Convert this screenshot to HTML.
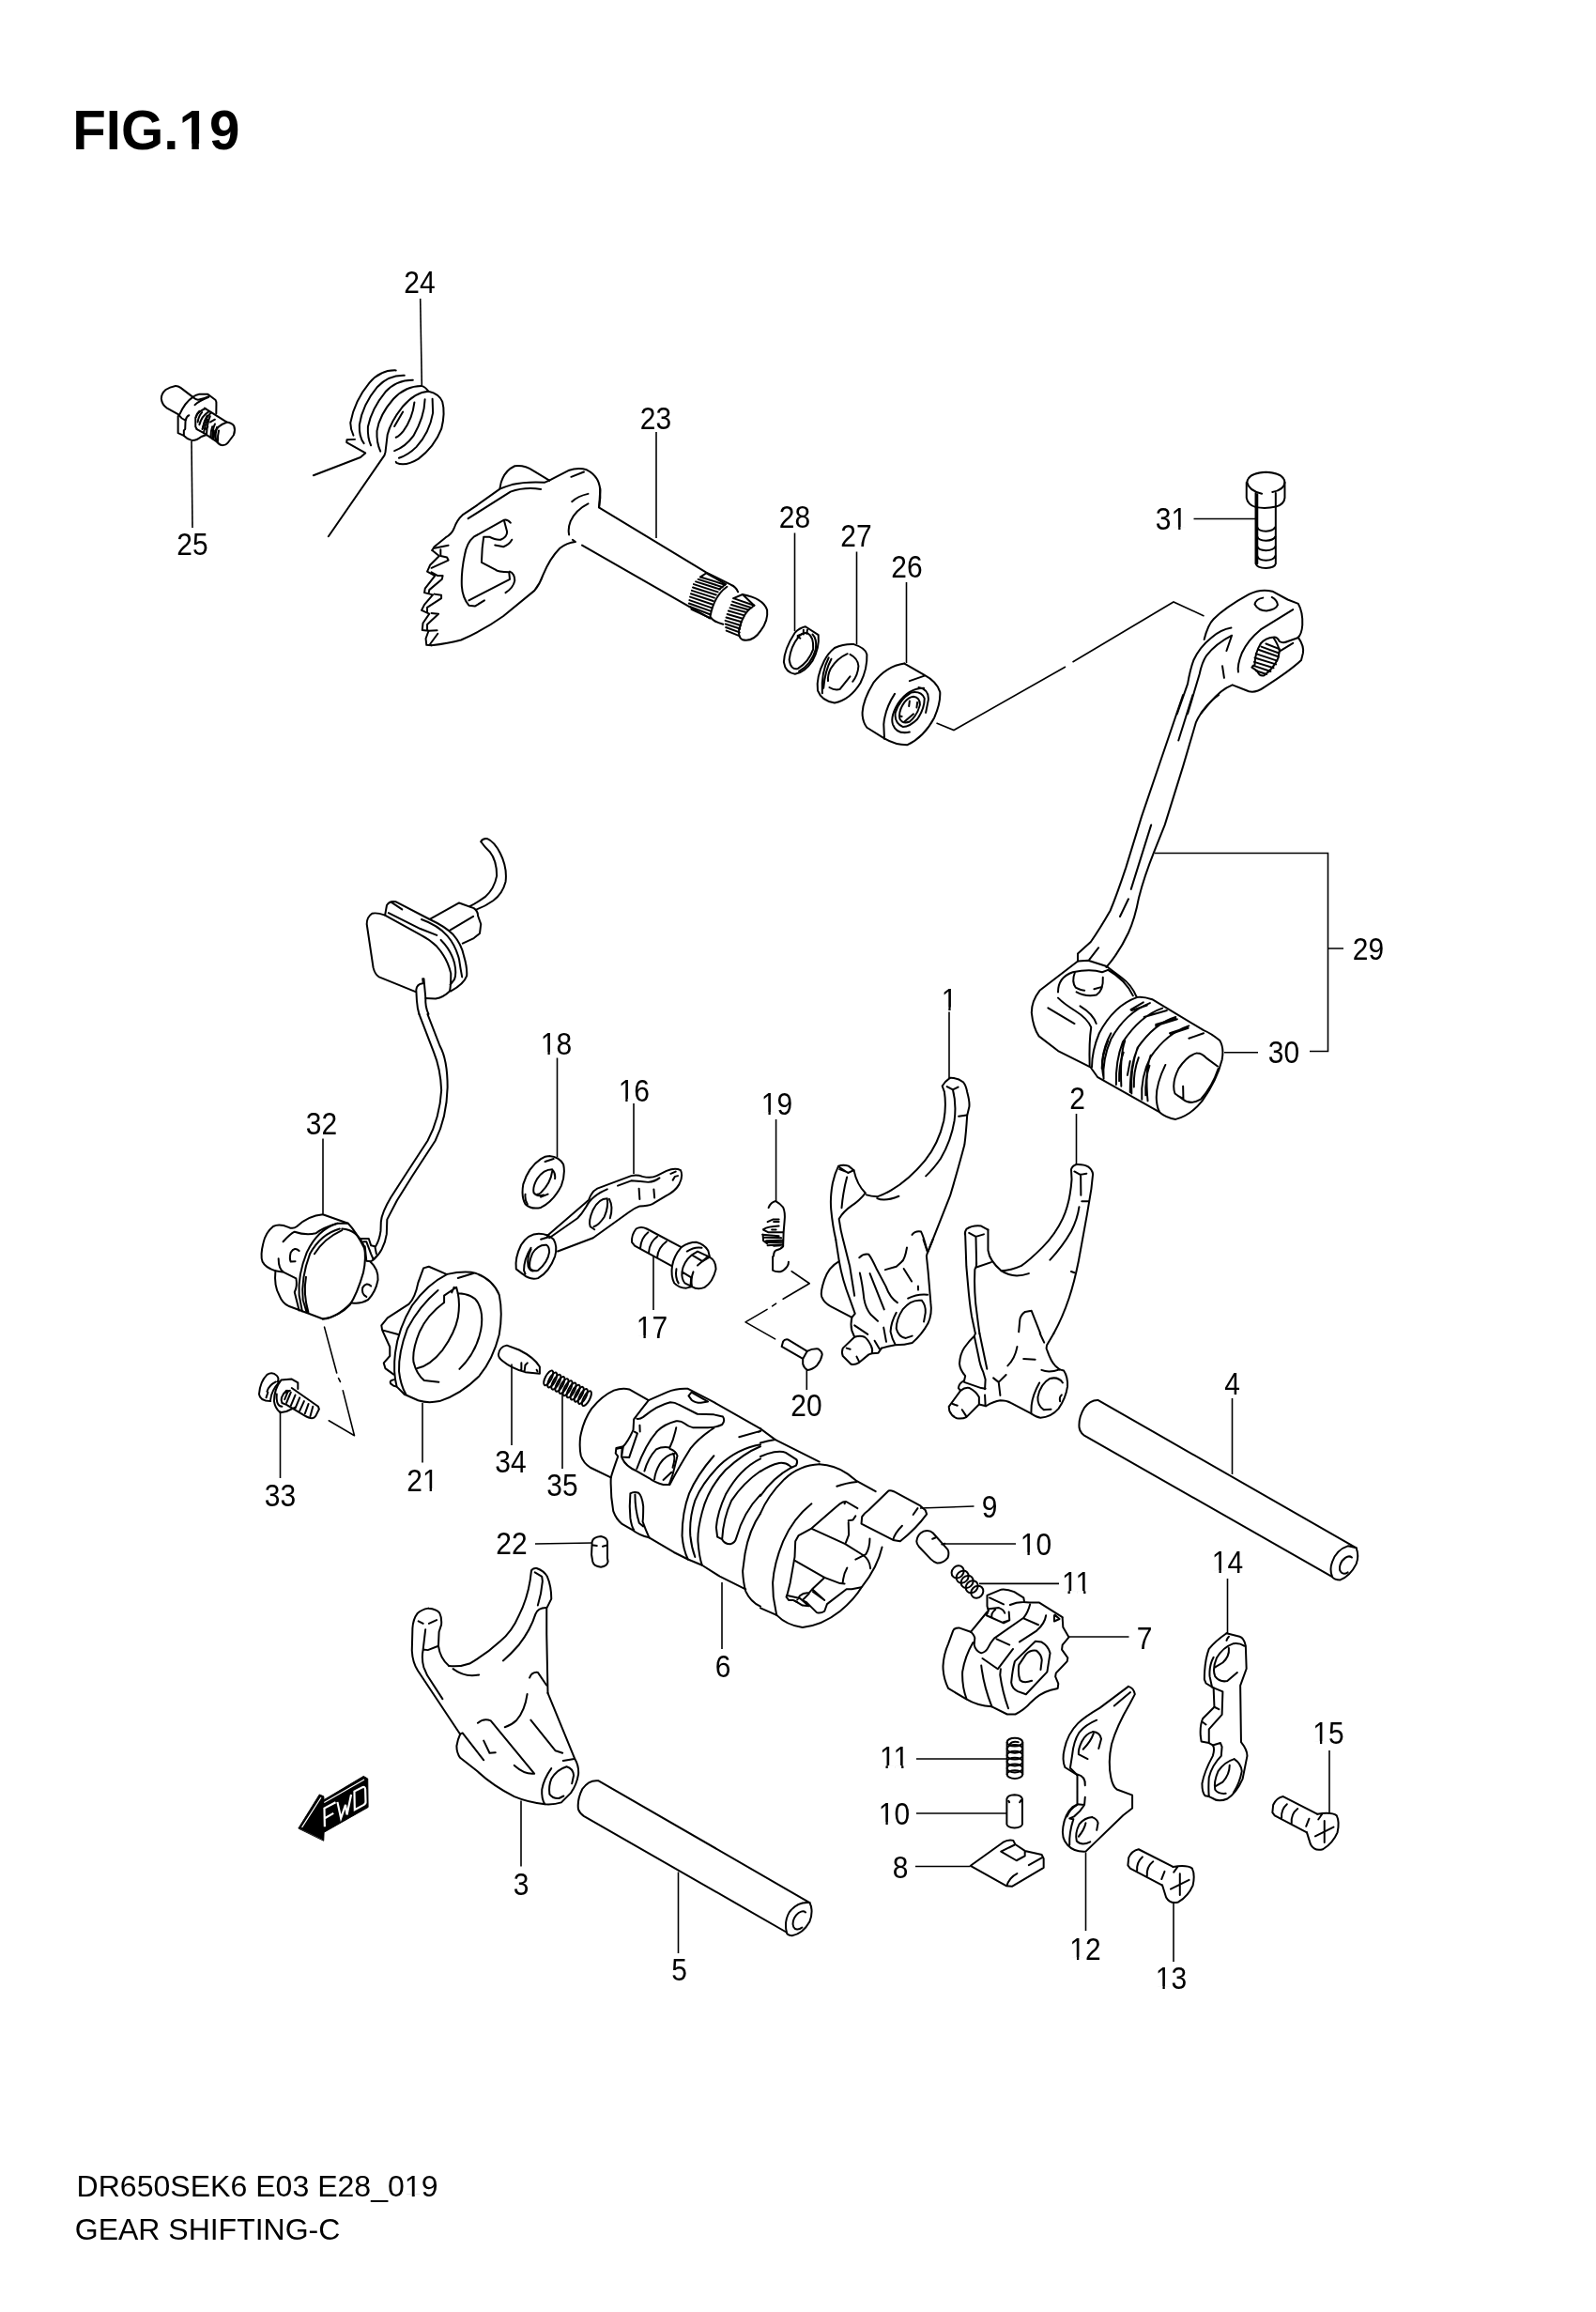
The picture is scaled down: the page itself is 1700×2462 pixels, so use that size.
<!DOCTYPE html>
<html><head><meta charset="utf-8">
<style>
html,body{margin:0;padding:0;background:#fff;}
body{width:1700px;height:2462px;overflow:hidden;}
svg{display:block;}
text{font-family:"Liberation Sans",sans-serif;fill:#000;}
svg{filter:grayscale(1);}
.n{font-size:30px;text-anchor:middle;}
#parts path,#parts ellipse,#parts circle,#parts line,#parts polyline,#parts polygon{vector-effect:non-scaling-stroke;}
#parts{fill:none;stroke:#000;stroke-width:2;stroke-linecap:round;stroke-linejoin:round;}
.f{fill:#fff;}
.k{fill:#000;}
.l{fill:none;stroke:#000;stroke-width:1.6;}
</style></head><body>
<svg width="1700" height="2462" viewBox="0 0 1700 2462">
<rect width="1700" height="2462" fill="#fff"/>
<text x="77.3" y="159.2" textLength="178" lengthAdjust="spacingAndGlyphs" style="font-size:60px;font-weight:bold;">FIG.19</text>
<text x="81.5" y="2339" textLength="385" lengthAdjust="spacingAndGlyphs" style="font-size:31.5px;">DR650SEK6 E03 E28_019</text>
<text x="79.8" y="2384.5" textLength="282.5" lengthAdjust="spacingAndGlyphs" style="font-size:31.5px;">GEAR SHIFTING-C</text>

<g class="n">
<text transform="translate(447,312) scale(1,1.12)">24</text>
<text transform="translate(205,591) scale(1,1.12)">25</text>
<text transform="translate(698.5,457) scale(1,1.12)">23</text>
<text transform="translate(846.5,562) scale(1,1.12)">28</text>
<text transform="translate(912,581.8) scale(1,1.12)">27</text>
<text transform="translate(966,615.3) scale(1,1.12)">26</text>
<text transform="translate(1247.5,564) scale(1,1.12)">31</text>
<text transform="translate(1457.5,1022) scale(1,1.12)">29</text>
<text transform="translate(1367.5,1132) scale(1,1.12)">30</text>
<text transform="translate(1011,1075.5) scale(1,1.12)">1</text>
<text transform="translate(1147.5,1181) scale(1,1.12)">2</text>
<text transform="translate(592.5,1123) scale(1,1.12)">18</text>
<text transform="translate(675.3,1173) scale(1,1.12)">16</text>
<text transform="translate(827.5,1187) scale(1,1.12)">19</text>
<text transform="translate(342.5,1207.8) scale(1,1.12)">32</text>
<text transform="translate(694.5,1425) scale(1,1.12)">17</text>
<text transform="translate(859,1508) scale(1,1.12)">20</text>
<text transform="translate(298.5,1604) scale(1,1.12)">33</text>
<text transform="translate(450,1588) scale(1,1.12)">21</text>
<text transform="translate(544,1568) scale(1,1.12)">34</text>
<text transform="translate(599,1593) scale(1,1.12)">35</text>
<text transform="translate(545,1655) scale(1,1.12)">22</text>
<text transform="translate(770,1786) scale(1,1.12)">6</text>
<text transform="translate(1312.5,1485) scale(1,1.12)">4</text>
<text transform="translate(1054,1616) scale(1,1.12)">9</text>
<text transform="translate(1103.5,1656) scale(1,1.12)">10</text>
<text transform="translate(1146.5,1697) scale(1,1.12)">11</text>
<text transform="translate(1219,1756) scale(1,1.12)">7</text>
<text transform="translate(1307.5,1675) scale(1,1.12)">14</text>
<text transform="translate(1415,1857) scale(1,1.12)">15</text>
<text transform="translate(952.5,1883) scale(1,1.12)">11</text>
<text transform="translate(952.5,1943) scale(1,1.12)">10</text>
<text transform="translate(959,2000) scale(1,1.12)">8</text>
<text transform="translate(1156,2087) scale(1,1.12)">12</text>
<text transform="translate(1247.5,2118) scale(1,1.12)">13</text>
<text transform="translate(555,2018) scale(1,1.12)">3</text>
<text transform="translate(723.5,2109) scale(1,1.12)">5</text>
</g>
<g fill="#fff"><rect x="1248.40" y="561.05" width="6.75" height="3.6"/><rect x="1257.45" y="561.05" width="7.65" height="3.6"/><rect x="1003.56" y="1072.55" width="6.75" height="3.6"/><rect x="1012.61" y="1072.55" width="7.65" height="3.6"/><rect x="576.72" y="1120.05" width="6.75" height="3.6"/><rect x="585.77" y="1120.05" width="7.65" height="3.6"/><rect x="659.52" y="1170.05" width="6.75" height="3.6"/><rect x="668.57" y="1170.05" width="7.65" height="3.6"/><rect x="811.72" y="1184.05" width="6.75" height="3.6"/><rect x="820.77" y="1184.05" width="7.65" height="3.6"/><rect x="678.72" y="1422.05" width="6.75" height="3.6"/><rect x="687.77" y="1422.05" width="7.65" height="3.6"/><rect x="450.90" y="1585.05" width="6.75" height="3.6"/><rect x="459.95" y="1585.05" width="7.65" height="3.6"/><rect x="1087.72" y="1653.05" width="6.75" height="3.6"/><rect x="1096.77" y="1653.05" width="7.65" height="3.6"/><rect x="1130.72" y="1694.05" width="6.75" height="3.6"/><rect x="1139.77" y="1694.05" width="7.65" height="3.6"/><rect x="1147.40" y="1694.05" width="6.75" height="3.6"/><rect x="1156.45" y="1694.05" width="7.65" height="3.6"/><rect x="1291.72" y="1672.05" width="6.75" height="3.6"/><rect x="1300.77" y="1672.05" width="7.65" height="3.6"/><rect x="1399.22" y="1854.05" width="6.75" height="3.6"/><rect x="1408.27" y="1854.05" width="7.65" height="3.6"/><rect x="936.72" y="1880.05" width="6.75" height="3.6"/><rect x="945.77" y="1880.05" width="7.65" height="3.6"/><rect x="953.40" y="1880.05" width="6.75" height="3.6"/><rect x="962.45" y="1880.05" width="7.65" height="3.6"/><rect x="936.72" y="1940.05" width="6.75" height="3.6"/><rect x="945.77" y="1940.05" width="7.65" height="3.6"/><rect x="1140.22" y="2084.05" width="6.75" height="3.6"/><rect x="1149.27" y="2084.05" width="7.65" height="3.6"/><rect x="1231.72" y="2115.05" width="6.75" height="3.6"/><rect x="1240.77" y="2115.05" width="7.65" height="3.6"/><rect x="432.44" y="2336.40" width="6.35" height="3.4"/><rect x="441.71" y="2336.40" width="6.09" height="3.4"/><rect x="192.86" y="152.7" width="11.47" height="7.5"/><rect x="211.78" y="152.7" width="11.06" height="7.5"/></g>
<g class="l"><path d="M447.7 318L449.3 410"/>
<path d="M204 470L205 562"/>
<path d="M699 460V573"/>
<path d="M846.5 567.5V672"/>
<path d="M912.5 587.5V686"/>
<path d="M965.5 620V706"/>
<path d="M1271.5 552.5H1339"/>
<path d="M1230 908.5H1414.5V1119.5H1395M1414.5 1010H1431"/>
<path d="M1304 1120.8H1340"/>
<path d="M1011 1077.5V1148.5"/>
<path d="M1146.5 1186V1241"/>
<path d="M593.5 1126.5V1232.5"/>
<path d="M675 1175V1250"/>
<path d="M826.6 1192V1279"/>
<path d="M344 1212.5V1292.5"/>
<path d="M696 1337.5V1395"/>
<path d="M859.3 1459V1480"/>
<path d="M298.5 1502.5V1574"/>
<path d="M450 1494V1557.5"/>
<path d="M545 1452.5V1539"/>
<path d="M599 1482.5V1564"/>
<path d="M570 1644L631 1643"/>
<path d="M769 1685V1756"/>
<path d="M1312.5 1489V1570"/>
<path d="M980 1606L1037.5 1604"/>
<path d="M1006.4 1644H1082"/>
<path d="M1043 1686.4H1128"/>
<path d="M1137.5 1743H1202.5"/>
<path d="M1307.5 1681V1740"/>
<path d="M1416 1864V1930"/>
<path d="M976 1873H1073"/>
<path d="M976 1931H1072.5"/>
<path d="M975 1987.5H1033.5"/>
<path d="M1156.5 1972.5V2056"/>
<path d="M1250 2026V2089"/>
<path d="M555 1917.5V1987.5"/>
<path d="M722.5 1993.5V2080"/>
<path d="M997.5 770L1016 777.5L1135 710M1142.5 705L1250 641L1282.5 656"/>
</g>
<g id="parts">
<!-- p01.svg -->
<g transform="translate(870,1130) scale(0.112782)">
<path d="M1258 158Q1210 190 1185 235L1205 290Q1225 420 1200 560Q1150 780 1020 940Q870 1120 700 1220Q620 1265 570 1280Q510 1275 470 1262"/>
<path d="M1258 158Q1330 155 1385 200Q1410 230 1420 290Q1445 380 1440 430L1420 515Q1410 680 1395 790Q1340 1000 1260 1270L1048 1805"/>
<path d="M1230 240L1285 270L1335 245M1285 270Q1320 400 1300 560Q1270 750 1170 920Q1100 1020 1030 1085M1340 520L1415 510"/>
<path d="M350 1030L300 990Q250 975 205 990Q170 1060 150 1150Q125 1280 135 1400Q150 1560 180 1685"/>
<path d="M205 995L295 1055L350 1030M215 1020L290 1050M350 1030Q380 1170 460 1245Q400 1320 330 1365Q250 1420 210 1490M285 1095Q250 1220 235 1385M210 1490Q225 1600 248 1685"/>
<path d="M570 1295Q640 1330 775 1275"/>
<path d="M900 1640Q930 1600 985 1610Q1010 1660 1040 1780"/>
</g>
<g transform="translate(860,1320) scale(0.112782)">
<path d="M268 0L300 205Q330 380 400 560L450 700L420 735M337 0L400 250L445 530"/>
<path d="M300 205Q200 260 160 380Q120 500 135 540Q160 600 220 630L420 735Q405 800 420 860L445 920"/>
<path d="M445 920Q500 900 540 920Q570 940 600 1000Q620 1040 610 1075L580 1085L490 1160Q440 1190 410 1175L335 1100Q320 1060 335 1025L445 920M370 1025L405 1035M465 1105L485 1145M610 1075L670 1070L700 1025M635 955L680 1030"/>
<path d="M700 1025Q760 1005 830 995Q920 995 990 975Q1080 900 1140 790Q1180 700 1165 600L1140 300L1125 155L1135 120M1095 0L1135 120L1185 0"/>
<path d="M840 690Q790 780 785 870Q800 940 830 990M1080 575Q980 560 900 660Q840 750 840 840Q860 920 930 930L990 910M1080 575Q1120 620 1115 690L1100 775M950 555Q1040 510 1135 520"/>
<path d="M490 170Q530 130 580 140Q610 180 650 270L740 440Q780 550 850 595M940 75Q920 190 890 210L840 255L735 285M495 315Q520 420 535 560Q550 650 600 710L665 770M590 320L725 660M910 275L985 395M1045 440L1047 475M445 810L570 895M720 830L745 965"/>
</g>
<!-- p02.svg -->
<g transform="translate(1000,1230) scale(0.112782)">
<path d="M1300 88Q1260 100 1250 135L1255 230Q1240 450 1170 600Q1100 750 980 870Q860 990 780 1045Q680 1090 590 1092"/>
<path d="M1300 88Q1370 85 1410 110Q1450 140 1455 180L1440 320Q1420 440 1400 560L1320 1000Q1280 1200 1230 1350Q1170 1530 1085 1685"/>
<path d="M1280 155L1335 185L1395 175M1340 185L1342 380M1350 437H1415M1325 490Q1310 600 1250 720Q1170 860 1050 990M1250 1100L1280 1110"/>
<path d="M465 705L400 670Q320 660 260 700Q240 730 250 760L260 1050L275 1220Q290 1400 310 1520L345 1685"/>
<path d="M285 735L350 770L425 748M350 770L355 1000Q360 1050 340 1080M465 705V900Q480 1000 590 1092M355 1060L495 1012M340 1080Q330 1300 360 1500Q375 1620 385 1685M590 1092Q700 1170 850 1118"/>
<path d="M875 1470L815 1480Q770 1510 765 1560L755 1670M875 1470L960 1685"/>
</g>
<g transform="translate(1000,1420) scale(0.112782)">
<path d="M335 25Q290 65 240 135Q200 195 195 285Q200 345 250 400L240 445M335 25L375 215Q390 305 420 365L440 435L435 525M385 0L455 335M345 0L335 25"/>
<path d="M240 445Q190 470 185 515L205 540M240 460L400 515L440 520"/>
<path d="M205 540Q250 505 290 515Q350 545 380 600V670L260 790Q220 810 170 800Q120 780 100 730L95 690L205 540M130 665L175 680M220 720L255 775M380 670L445 685M435 580L440 680"/>
<path d="M445 685Q520 640 580 632Q640 632 680 655L870 755Q920 790 960 795Q1060 790 1130 710Q1200 610 1215 500Q1220 410 1180 350L1140 340"/>
<path d="M515 420L565 460L635 390M565 460L580 585M740 125Q720 235 650 305M800 240L910 245M970 345Q1040 375 1140 340"/>
<path d="M1085 0L1020 110Q1010 140 1025 165Q1060 265 1100 305L1140 340M955 0L995 85"/>
<path d="M1170 465Q1130 405 1050 425Q960 475 935 600Q930 680 990 720L1060 715M950 465Q885 580 875 680L872 755M1160 580Q1135 600 1145 640"/>
</g>
<!-- p03.svg -->
<g transform="translate(430,1660) scale(0.125313)">
<path d="M1085 100Q1100 75 1130 80Q1190 100 1220 150Q1255 230 1255 340L1215 420V640L1225 1140"/>
<path d="M1085 100L1075 180Q1050 340 980 480Q920 620 820 700Q700 810 560 890Q480 920 385 910"/>
<path d="M1115 115L1175 150L1180 190Q1170 300 1140 395M1210 415Q1140 415 1120 470Q1080 600 980 730Q910 810 845 865"/>
<path d="M210 420Q150 430 115 465Q80 510 75 590L70 780Q75 880 120 950L480 1490M210 420Q280 425 305 460Q325 500 320 560L300 620L295 740Q310 850 385 910"/>
<path d="M125 530L165 550M215 550L280 520M185 600L165 770L205 775L295 740M165 770Q150 850 170 920L200 990L330 1190"/>
<path d="M420 935Q520 1010 640 985"/>
<path d="M1225 1140L1455 1700Q1490 1760 1485 1830Q1470 1920 1420 1990L1340 2070Q1280 2090 1200 2085Q1060 2070 940 2020Q760 1930 620 1800L480 1690Q450 1650 450 1590Q460 1530 480 1490"/>
<path d="M480 1490L500 1480L680 1710"/>
<path d="M1255 1780Q1190 1870 1175 1960Q1170 2040 1200 2085M1385 1765Q1300 1790 1255 1870Q1230 1930 1240 2000Q1270 2040 1320 2035L1360 2015M1385 1765Q1440 1780 1445 1840L1430 1910M1355 1715L1450 1700"/>
<path d="M1070 1010Q1090 960 1140 965L1215 1075M1050 1150Q1030 1290 960 1370Q920 1410 860 1430M630 1395Q680 1350 740 1375L1110 1825Q1030 1835 940 1755M1080 1370L1290 1630L1350 1650M680 1545L730 1650L780 1645"/>
</g>
<!-- p04_05.svg -->
<g transform="translate(1140,1480) scale(0.213033)">
<path d="M1430 790L140 52Q100 50 70 90Q40 140 45 190Q50 215 70 228L1310 935"/>
<path d="M1430 790Q1445 830 1430 870Q1400 930 1350 950Q1320 950 1310 935Q1295 900 1310 860Q1330 800 1390 780L1430 790"/>
<path d="M1408 838A30 46 30 1 0 1388 912"/>
</g>
<g transform="translate(420,1660) scale(0.28822)">
<path d="M1535 1270L755 820Q720 815 695 850Q675 890 680 925Q685 940 700 950L1450 1380"/>
<path d="M1535 1270Q1550 1300 1535 1340Q1510 1385 1470 1392Q1450 1390 1450 1380Q1440 1340 1460 1305Q1490 1265 1535 1270"/>
<path d="M1520 1306A23 36 30 1 0 1507 1362"/>
</g>
<!-- p06a.svg -->
<g transform="translate(610,1460) scale(0.125313)">
<path d="M645 248L480 155Q420 140 350 165Q250 210 160 320Q90 420 65 560Q55 650 70 720Q90 780 150 820L325 905"/>
<path d="M645 248L800 180Q880 145 980 150L1200 265L1596 490"/>
<path d="M645 248Q580 330 520 410L515 500Q470 600 430 640L370 655L365 700L385 725Q340 850 325 905Q320 1050 345 1190Q370 1260 420 1300L500 1345Q570 1400 650 1415"/>
<path d="M525 515L550 530L480 735L415 730L430 640M375 660L420 650L415 725M570 460L572 515"/>
<path d="M650 1415L860 1540L980 1600L1100 1650L1250 1745L1470 1855"/>
<path d="M545 405Q570 410 600 390Q720 290 830 265Q870 265 900 285L1060 365L1200 370L1265 385M1275 385Q1300 420 1270 455Q1220 480 1150 480H1020Q980 470 950 445Q920 420 880 425Q780 450 720 510Q620 620 545 830M1200 485Q1080 560 1000 660Q900 820 825 965"/>
<path d="M985 210L1010 180L1150 260L1090 270Q1040 270 1010 245L985 210"/>
<path d="M880 480Q860 580 825 650Q760 640 710 665Q640 740 610 850M825 660Q880 680 890 720L850 880L820 965H770Q700 950 650 910L545 850Q450 810 420 740"/>
<path d="M870 700Q790 710 740 790Q700 860 695 920M850 700Q880 720 850 820M770 925L840 860"/>
<path d="M490 1040Q520 1020 560 1035Q590 1060 600 1150Q600 1250 595 1280Q620 1350 650 1415M490 1040Q480 1150 490 1250Q500 1320 520 1350M530 1050Q530 1180 565 1290L600 1320"/>
<path d="M1200 720Q1060 880 990 1040Q930 1200 930 1400Q940 1520 980 1600M1596 625Q1400 660 1250 800Q1100 950 1040 1100Q990 1250 1000 1400Q1010 1500 1040 1580M1596 640Q1450 700 1300 840Q1150 1000 1100 1200Q1060 1350 1065 1450Q1075 1580 1100 1650"/>
<path d="M1596 745Q1420 830 1300 1050Q1230 1200 1220 1330L1230 1410L1270 1430M1596 850Q1450 950 1350 1100Q1280 1250 1270 1430Q1290 1470 1340 1470Q1380 1460 1390 1420Q1450 1200 1596 1050"/>
<path d="M1596 1210Q1500 1350 1465 1550L1445 1700Q1450 1800 1470 1870Q1510 1960 1596 2000M1415 560L1596 510"/>
<path d="M165 1450Q175 1410 240 1405Q290 1415 295 1450V1590L300 1620Q290 1660 240 1665Q180 1660 170 1620L160 1560L165 1450M175 1480L205 1485M255 1490L290 1480"/>
</g>
<!-- p06b.svg -->
<g transform="translate(790,1520) scale(0.137845)">
<path d="M145 10L260 95L600 265"/>
<path d="M145 30L130 35M145 120Q200 105 260 95"/>
<path d="M145 225Q200 200 250 190Q310 180 340 195L425 250Q435 270 420 295L385 310M145 340Q220 290 290 275Q340 270 370 295L385 310"/>
<path d="M385 310Q240 390 145 530"/>
<path d="M600 285Q450 290 330 400Q200 530 145 665"/>
<path d="M145 1395L270 1450"/>
<path d="M600 285Q720 290 820 360L890 415L1035 495M735 455Q800 430 890 420"/>
<path d="M270 1450Q350 1530 470 1545Q620 1530 760 1420Q870 1330 930 1230Q1050 1080 1085 925"/>
<path d="M540 590Q400 700 320 880Q250 1050 240 1200L245 1310L270 1450"/>
<path d="M540 780L700 640L760 590Q790 570 810 575L895 625M540 780L440 835L415 880L410 1000L375 1200L355 1280L345 1310L365 1335H400L430 1350M800 575L795 590"/>
<path d="M545 785L800 900L935 985M405 1025L640 1160L760 1205L795 1208M825 735L828 830L805 890M825 720L860 715L880 685M990 860Q990 930 960 980L880 1020M935 985Q990 1020 995 1090M815 1085Q790 1130 785 1170L780 1205"/>
<path d="M640 1160L545 1250L640 1335M550 1270L640 1335M545 1250L520 1280Q480 1275 450 1300L430 1330M520 1285L470 1335L500 1350L580 1430Q610 1440 640 1420L660 1365L810 1250H850L925 1235M360 1300L450 1320L520 1380L470 1375L410 1340"/>
<path d="M1135 490Q1150 485 1175 495L1380 605L1420 640L1430 670Q1350 780 1225 880L1170 870L925 745L930 690Q950 660 980 640L1135 490M1360 625L1325 675M1240 760Q1180 820 1170 870"/>
</g>
<!-- p07_10_11.svg -->
<g transform="translate(960,1620) scale(0.125313)">
<path d="M130 170Q135 110 190 85Q240 70 270 100L395 240Q410 270 395 310Q360 355 305 355Q280 350 250 320L150 215Q130 190 130 170M265 150L290 140M345 195L370 190"/>
<ellipse cx="480" cy="430" rx="48" ry="56" transform="rotate(45 480 430)"/>
<ellipse cx="520" cy="472" rx="48" ry="56" transform="rotate(45 520 472)"/>
<ellipse cx="560" cy="514" rx="48" ry="56" transform="rotate(45 560 514)"/>
<ellipse cx="600" cy="556" rx="48" ry="56" transform="rotate(45 600 556)"/>
<ellipse cx="645" cy="600" rx="48" ry="56" transform="rotate(45 645 600)"/>
<path d="M730 630L850 580Q900 575 960 600L1040 650L1045 680M730 630V720L740 760M750 650L870 705M925 710Q1000 675 1090 690H1170L1370 815"/>
<path d="M745 745L830 735Q870 750 880 780M800 750Q760 780 770 820L870 865L920 840L915 770M740 760L725 800L770 820M860 860L905 845"/>
<path d="M1095 705Q1075 780 1040 820L790 995Q760 1030 740 1070Q720 1110 680 1120Q630 1100 620 1050L625 990Q610 950 590 940L730 770"/>
<path d="M1040 825L1165 880M1230 800Q1220 870 1150 930L1005 1025M810 1000L920 1050"/>
<path d="M590 940L490 905Q450 905 440 930L400 1040Q360 1130 355 1230Q355 1330 400 1420L550 1510Q650 1570 770 1575L900 1640H970Q1050 1600 1100 1540Q1180 1460 1270 1435L1330 1420L1335 1380L1310 1320L1315 1290L1410 1190L1415 1160L1365 1090L1370 1050L1425 985L1375 900L1370 820"/>
<path d="M1300 800V850L1345 830L1305 795"/>
<path d="M610 1030Q540 1150 520 1280Q515 1400 555 1510M680 1225Q700 1400 770 1575M840 1305Q860 1450 910 1590M690 1165L820 1255L950 1085M840 1305L845 1255"/>
<path d="M1140 1020L1190 1025Q1250 1060 1265 1120L1240 1280L1060 1470L990 1445Q940 1420 935 1370Q945 1260 965 1190L1140 1020"/>
<path d="M1150 1100Q1190 1130 1195 1180L1185 1260M1150 1100Q1100 1090 1060 1130L1000 1220Q990 1300 1010 1350Q1040 1380 1110 1355"/>
</g>
<!-- p08_12.svg -->
<g transform="translate(1020,1780) scale(0.137845)">
<path d="M382 545V795M503 545V795"/>
<ellipse cx="442" cy="545" rx="60" ry="32"/>
<ellipse cx="442" cy="597" rx="60" ry="32"/>
<ellipse cx="442" cy="647" rx="60" ry="32"/>
<ellipse cx="442" cy="697" rx="60" ry="32"/>
<ellipse cx="442" cy="747" rx="60" ry="32"/>
<ellipse cx="442" cy="795" rx="60" ry="32"/>
<path d="M405 560Q420 535 470 545"/>
<path d="M380 985Q385 955 440 952Q495 955 500 985V1180Q495 1205 440 1208Q385 1205 380 1180ZM395 1000L400 1010M480 1010L490 995"/>
<path d="M100 1500L350 1320Q390 1295 430 1305L445 1335L520 1385L650 1415L665 1445V1515L420 1660L375 1655L100 1500M445 1335L335 1390L455 1460L520 1425V1385M400 1360L440 1340M550 1495L650 1440M460 1560Q400 1590 380 1655"/>
<path d="M1320 115Q1360 125 1370 175L1330 250Q1230 420 1190 560Q1160 700 1185 820Q1200 890 1230 910L1350 955V1055L1280 1110L990 1390Q900 1395 850 1340Q800 1290 815 1200Q830 1100 890 1045L925 1025V800L830 740Q805 680 825 600Q850 480 930 400Q980 350 1100 280L1320 115"/>
<path d="M1075 375Q990 410 940 470Q895 540 885 650L870 745L925 800M925 795Q990 810 985 880M985 970L980 1030L925 1025M980 1030Q950 1080 900 1120L865 1135L895 1140M895 1140Q860 1250 865 1340M925 1030Q870 1060 845 1120M1335 160L1210 265"/>
<path d="M1045 465Q990 480 960 540Q930 600 935 640L1005 675M1045 465Q1100 470 1110 520L1090 595M1050 480Q1030 540 970 600"/>
<path d="M1040 1125Q980 1130 940 1180Q905 1250 920 1310Q960 1350 1025 1315M1040 1125Q1080 1140 1085 1170L1075 1225M990 1170Q980 1220 935 1275"/>
</g>
<!-- p14_15_13.svg -->
<g transform="translate(1190,1720) scale(0.162907)">
<path d="M715 118Q640 170 600 220Q570 300 570 420L580 445L630 475L635 600L560 675Q540 720 545 790L550 825L600 835L625 850Q640 870 625 920Q570 1020 555 1100Q555 1160 575 1180L600 1185"/>
<path d="M715 118L800 140Q830 150 840 200L845 350L805 460L810 830Q850 880 850 920L820 1070Q780 1160 720 1200Q660 1225 620 1195L600 1185"/>
<path d="M730 140Q720 150 715 165M830 200Q800 180 760 185Q690 210 650 280Q620 350 640 400Q670 440 720 430L785 375M630 275Q600 330 605 400L620 470L690 500L685 650L600 745V830M635 600L665 615M560 700L580 715M625 850L675 835L685 860L680 920Q620 980 600 1060Q595 1130 600 1185"/>
<path d="M730 215Q735 270 690 310L640 340"/>
<path d="M765 940Q700 960 660 1020Q630 1090 640 1140Q660 1170 710 1165M765 940Q810 970 815 1020Q800 1100 760 1160M735 980Q735 1040 690 1090L640 1120"/>
<g id="scr15">
<path d="M1085 1185Q1040 1195 1020 1240L1015 1290L1030 1310L1240 1420M1085 1185L1310 1300M1110 1235Q1070 1270 1075 1325M1180 1265Q1135 1300 1140 1360M1255 1330L1235 1380"/>
<path d="M1310 1300Q1400 1285 1435 1310Q1455 1350 1440 1420Q1410 1490 1345 1530Q1290 1545 1265 1500L1240 1420M1340 1300L1315 1335M1355 1345V1485M1295 1445L1415 1385"/>
</g>
<g transform="translate(-945,345)">
<path d="M1085 1185Q1040 1195 1020 1240L1015 1290L1030 1310L1240 1420M1085 1185L1310 1300M1110 1235Q1070 1270 1075 1325M1180 1265Q1135 1300 1140 1360M1255 1330L1235 1380"/>
<path d="M1310 1300Q1400 1285 1435 1310Q1455 1350 1440 1420Q1410 1490 1345 1530Q1290 1545 1265 1500L1240 1420M1340 1300L1315 1335M1355 1345V1485M1295 1445L1415 1385"/>
</g>
</g>
<!-- p16_18_17.svg -->
<g transform="translate(540,1210) scale(0.150376)">
<path d="M300 140Q370 145 400 200Q415 270 385 350Q330 460 240 505Q170 520 130 480Q100 430 115 340Q150 220 240 160Q270 140 300 140"/>
<path d="M130 410Q125 450 145 480M270 180L330 160"/>
<path d="M320 235Q260 235 215 300Q180 360 190 400Q210 430 260 415M320 235Q345 260 340 300M320 250Q310 330 240 400Q230 410 215 410M240 430L290 410"/>
<path d="M285 705L580 450Q600 390 640 370L880 280Q920 270 960 285Q1020 300 1060 280L1130 245Q1190 220 1230 240Q1250 280 1220 340Q1190 390 1130 420L1030 480Q1000 495 940 495Q900 510 860 540L610 720L360 815"/>
<path d="M300 720L500 580Q530 550 560 500Q600 420 710 375M785 350L880 315Q950 320 1000 325Q1050 320 1080 295"/>
<path d="M935 370L940 445M1040 375L1045 435M1160 265L1195 250M1175 310L1190 285L1210 280"/>
<path d="M710 440Q650 440 610 520Q575 600 590 640L620 660M710 440Q720 500 690 570Q650 630 615 640M725 445Q755 500 730 580"/>
<path d="M225 690Q150 690 100 770Q55 860 65 940L110 975Q160 1020 220 1005Q300 960 340 850Q360 780 330 730Q290 690 225 690M240 730L290 715M170 790Q120 870 120 950L130 975"/>
<path d="M280 770Q220 765 180 830Q150 900 165 940Q190 960 220 950Q290 890 300 820Q300 780 280 770M170 800Q140 860 150 920Q160 950 185 955"/>
<path d="M990 655Q950 635 915 655Q880 700 885 750L905 775L1170 920M990 655L1235 785"/>
<path d="M1000 680Q950 720 945 790M1065 710Q1010 750 1005 820M1130 745Q1070 790 1065 855"/>
<path d="M1235 785Q1290 750 1340 750Q1400 765 1425 810L1435 850M1235 785Q1180 850 1170 920Q1160 990 1185 1040Q1220 1075 1270 1075L1310 1065M1275 815Q1330 780 1380 790M1200 940Q1190 1000 1215 1040"/>
<path d="M1310 840L1350 815L1425 850L1385 885L1310 840Q1250 890 1240 960L1305 1000M1240 960Q1235 1010 1260 1040L1300 1060M1305 1000L1300 1060M1385 885L1350 915"/>
<path d="M1435 855Q1480 880 1480 940Q1460 1030 1400 1070Q1350 1090 1310 1065Q1300 1010 1320 960M1385 885L1435 855"/>
</g>
<!-- p19_20.svg -->
<g transform="translate(780,1260) scale(0.100251)">
<path d="M385 260Q410 200 462 190Q500 210 540 255Q565 310 555 400L545 520L540 670"/>
<path d="M375 410L430 385H495M440 410H495M330 490Q380 460 495 455M330 495L380 520H540M420 495H465M320 545L495 560M325 545L330 610L370 640M345 575L520 580M360 610L540 605M365 630L535 625M375 660L440 655L535 650M440 665L520 660"/>
<path d="M540 670Q520 700 470 710Q440 720 440 770L430 780V925Q460 945 510 940Q550 930 580 890Q600 860 598 835"/>
<path d="M630 935L820 1065L540 1230M425 1305L465 1278M370 1340L140 1475L455 1655" style="stroke-width:1.6"/>
<path d="M795 1785L590 1660Q555 1655 540 1680L525 1735L750 1865"/>
<path d="M795 1785Q850 1755 915 1760Q955 1790 955 1820Q945 1880 900 1935Q850 1980 800 1985Q760 1960 750 1920V1865Q770 1830 795 1785"/>
</g>
<!-- p21_34_35.svg -->
<g transform="translate(390,1330) scale(0.162907)">
<path d="M530 165Q650 140 720 160Q830 200 870 300Q895 420 870 560Q830 720 740 830Q620 950 480 995Q400 1010 340 990L250 950"/>
<path d="M530 165Q400 230 300 370Q210 520 190 680Q175 800 200 900L250 950"/>
<path d="M470 270Q350 370 270 520Q210 680 215 800Q225 890 260 950"/>
<path d="M600 290Q700 295 730 350Q770 420 750 530Q720 680 610 785M510 350Q400 430 350 540Q300 660 310 740Q330 820 380 860L475 870M335 780Q420 760 500 660Q580 550 600 450Q615 360 600 290"/>
<path d="M600 290L590 250L510 305V350M575 250L560 285M600 190L700 160"/>
<path d="M525 165L410 115L375 125L340 220Q320 320 280 360L140 450L100 500L105 530L215 560M105 530L155 640V700L115 745L125 780L180 820M180 855Q150 860 160 880L180 895L200 900"/>
<path d="M865 690Q870 640 920 630L1000 660Q1100 710 1135 770V815L1040 805Q950 780 890 730Q865 710 865 690M1015 745V795M1035 800L1040 760L1055 745M1115 790L1120 800"/>
<ellipse cx="1192.0" cy="843.0" rx="20" ry="54" transform="rotate(28 1192.0 843.0)"/>
<ellipse cx="1217.0" cy="856.4" rx="20" ry="54" transform="rotate(28 1217.0 856.4)"/>
<ellipse cx="1242.0" cy="869.8" rx="20" ry="54" transform="rotate(28 1242.0 869.8)"/>
<ellipse cx="1267.0" cy="883.2" rx="20" ry="54" transform="rotate(28 1267.0 883.2)"/>
<ellipse cx="1292.0" cy="896.6" rx="20" ry="54" transform="rotate(28 1292.0 896.6)"/>
<ellipse cx="1317.0" cy="910.0" rx="20" ry="54" transform="rotate(28 1317.0 910.0)"/>
<ellipse cx="1342.0" cy="923.4" rx="20" ry="54" transform="rotate(28 1342.0 923.4)"/>
<ellipse cx="1367.0" cy="936.8" rx="20" ry="54" transform="rotate(28 1367.0 936.8)"/>
<ellipse cx="1392.0" cy="950.2" rx="20" ry="54" transform="rotate(28 1392.0 950.2)"/>
<ellipse cx="1417.0" cy="963.6" rx="20" ry="54" transform="rotate(28 1417.0 963.6)"/>
<ellipse cx="1442.0" cy="977.0" rx="20" ry="54" transform="rotate(28 1442.0 977.0)"/>
</g>
<!-- p23a.svg -->
<g transform="translate(440,480) scale(0.150376)">
<path d="M615 265Q630 150 720 108Q790 100 850 140L965 210"/>
<path d="M965 210L1100 140Q1170 115 1230 135Q1320 180 1325 280L1318 400"/>
<path d="M965 210L930 225Q800 218 700 240Q650 255 615 270L440 395L350 455Q310 490 290 550Q275 590 230 615L150 680L135 705"/>
<path d="M905 272Q790 255 690 290L390 480"/>
<path d="M135 705L185 745L120 810L100 855L155 885L85 975L80 1005L140 1020L80 1090L60 1130L115 1155L70 1220L65 1270L110 1275L90 1330L95 1375L130 1378"/>
<path d="M150 690L250 670M195 700V745L240 755L250 775L130 830M130 860L175 885H210L205 910L115 985L110 1010M150 1015L200 1022V1045L100 1110V1140M130 1150L180 1155L100 1230V1270M110 1275L170 1272M175 1295L120 1370"/>
<path d="M130 1378Q250 1365 340 1340Q500 1270 640 1170L860 990Q900 940 920 880Q970 760 1040 690Q1090 650 1150 645L1130 630"/>
<path d="M1120 185L1210 150M1125 360Q1170 320 1240 305M1240 375Q1150 420 1115 500Q1095 550 1105 595"/>
<path d="M690 510Q670 485 645 490L430 610Q380 650 365 740Q340 860 345 960Q350 1040 395 1095L440 1100L505 1060"/>
<path d="M395 1060L685 910L680 860Q600 860 580 840L485 790L490 690L500 610L540 610Q590 635 620 630Q670 610 665 570L645 495"/>
<path d="M685 855Q720 870 720 920Q710 970 655 1005M580 668Q620 675 640 680Q680 665 700 630"/>
</g>
<!-- p23b.svg -->
<g transform="translate(620,520) scale(0.137845)">
<path d="M140 0V75L130 148L960 650L1150 745Q1190 760 1205 800"/>
<path d="M0 440L830 915L990 1005"/>
<path d="M915 685L960 655L1110 740L1060 780"/>
<path d="M915 685 L1105 745M897 703 L1085 763M879 721 L1066 780M863 741 L1049 801M856 765 L1036 823M848 790 L1022 846M841 814 L1013 871M835 839 L1005 896M830 864 L998 922M826 889 L992 948M832 913 L988 974M845 935 L985 1000"/>
<path d="M1120 760Q1020 830 990 990Q1010 1030 1090 1050"/>
<path d="M1170 850L1240 820L1330 905"/>
<path d="M1170 850 L1330 905M1162 875 L1309 923M1153 900 L1288 940M1143 924 L1267 958M1131 947 L1254 982M1122 972 L1242 1007M1114 997 L1232 1032M1107 1022 L1225 1059M1108 1048 L1220 1085M1111 1074 L1217 1113M1115 1100 L1215 1140"/>
<path d="M1240 820Q1400 850 1430 940Q1440 1020 1380 1100Q1320 1190 1240 1170Q1200 1150 1215 1080"/>
<path d="M1330 905Q1240 960 1215 1090"/>
</g>
<!-- p24.svg -->
<g transform="translate(320,380) scale(0.106516)">
<path d="M955 135Q800 130 690 260Q540 440 500 660Q500 720 530 785"/>
<path d="M1040 185Q880 180 770 300Q620 480 590 680Q585 800 635 865"/>
<path d="M1125 232Q960 230 850 350Q710 520 675 700Q670 810 705 885"/>
<path d="M1210 290Q1050 290 930 420Q790 580 765 740Q760 860 800 945"/>
<path d="M1210 290Q1250 300 1280 345"/>
<path d="M1280 345Q1150 350 1020 500Q900 650 870 780L850 950L840 985L280 1795"/>
<path d="M1280 345Q1390 370 1420 450Q1450 560 1410 720Q1340 900 1180 1020Q1050 1100 960 1060L955 1050"/>
<path d="M1320 420L1325 560Q1290 760 1160 900Q1080 980 985 1012"/>
<path d="M1245 425Q1240 600 1130 790Q1050 900 940 940"/>
<path d="M1140 455Q1120 620 1030 740Q990 790 955 805"/>
<path d="M1025 550L940 695"/>
<path d="M545 825L465 828L462 855L650 962L600 1005L130 1185"/>
</g>
<!-- p25.svg -->
<g transform="translate(160,395) scale(0.068922)">
<path d="M660 405L470 260Q430 230 390 232Q300 250 240 290Q170 350 172 430Q180 520 260 575L450 680"/>
<path d="M660 405Q540 480 450 680L430 700V960L520 1000Q580 1060 640 1072Q720 1075 790 1015L860 990"/>
<path d="M450 690Q480 740 545 762L540 900L520 920V1000"/>
<path d="M600 685Q560 700 548 762"/>
<path d="M660 405Q700 365 760 358H890L1010 450Q1025 470 1022 520L1020 660"/>
<path d="M660 405Q700 440 740 445Q830 430 905 392"/>
<path d="M690 525Q740 470 905 402"/>
<path d="M840 575L1180 790"/>
<path d="M1180 790Q1260 800 1295 850Q1320 920 1290 990L1200 1110Q1170 1150 1110 1148Q1060 1140 1030 1090Q990 1020 1000 950Q1030 850 1180 795"/>
<path d="M720 900L830 960L1040 1100"/>
<path d="M850 580Q720 640 700 720V860L720 900"/>
<path d="M760 620Q715 660 712 710"/>
<path d="M910 625Q790 700 760 830"/>
<path d="M940 645Q840 740 805 900"/>
<path d="M885 750Q845 850 825 960"/>
<path d="M960 860Q935 930 935 1020"/>
<path d="M1060 920Q1040 1000 1045 1080"/>
<path d="M930 790L1000 750M860 900L890 860M985 920Q975 970 980 1040"/>
<path d="M880 690Q830 770 815 880M925 700Q880 800 870 990M1000 820Q960 900 960 1050M1030 870Q1005 960 1010 1070M800 640Q745 700 735 790"/>
</g>
<!-- p26_28.svg -->
<g transform="translate(820,650) scale(0.137845)">
<path d="M275 125L375 190Q385 290 330 390Q270 480 195 492Q120 480 108 400Q110 300 195 170Q230 135 275 125"/>
<path d="M290 175Q340 200 335 300Q300 400 215 450Q160 460 150 380Q160 280 225 200Q250 170 290 175"/>
<path d="M330 185Q365 220 355 300Q320 420 225 470M215 195L245 185M260 150V185M290 150L285 180M215 205L235 215"/>
<path d="M500 290Q570 258 650 262Q740 290 750 340Q755 450 700 560Q620 690 500 715Q400 700 370 620Q355 520 420 390Q450 330 500 290"/>
<path d="M455 365Q395 480 405 640M475 375Q425 470 415 600"/>
<path d="M620 340Q680 370 685 430Q680 500 640 550M600 335Q520 370 470 450Q445 500 450 545M460 595Q500 620 540 610L620 510"/>
<path d="M1040 410Q900 430 800 560Q720 690 715 790Q715 860 750 905L885 990"/>
<path d="M1040 410L1195 500Q1290 550 1315 630Q1320 720 1270 830Q1190 980 1060 1040Q970 1040 885 990"/>
<path d="M965 645Q890 760 880 880L885 990M1080 545L1195 505"/>
<path d="M1190 600Q1070 600 990 720Q930 820 950 880Q980 960 1080 940M1150 595Q1230 610 1225 690L1205 790"/>
<path d="M1090 635Q1170 620 1195 680Q1195 760 1140 840Q1080 900 1030 900Q960 870 970 790Q1000 690 1090 635"/>
<path d="M1110 665Q1160 670 1160 730Q1140 810 1080 860Q1030 880 1005 840Q990 780 1040 710Q1070 670 1110 665"/>
<path d="M1080 700L1075 740M1140 710L1135 750M1040 860L1110 800M1005 815L1020 820"/>
</g>
<!-- p29a.svg -->
<g transform="translate(1230,490) scale(0.125313)">
<path d="M420 1525Q450 1400 500 1350Q600 1250 800 1140Q900 1090 1000 1115L1130 1185L1220 1220Q1260 1290 1255 1400Q1250 1480 1215 1510"/>
<path d="M1225 1515Q1270 1580 1260 1640L1245 1700Q1150 1790 930 1930Q860 1980 800 1965L660 1910Q560 1950 470 2060L390 2155"/>
<path d="M1215 1510L1130 1540Q1090 1560 1060 1540Q1040 1500 1010 1505Q940 1510 900 1560M1175 1555L1060 1625"/>
<path d="M1175 1270L900 1440Q790 1530 740 1640Q700 1740 710 1800"/>
<path d="M920 1170Q860 1180 850 1225Q880 1280 950 1280Q1030 1270 1045 1230Q1040 1190 995 1165"/>
<path d="M900 1560Q850 1640 850 1740L825 1760L870 1790Q890 1840 930 1830Q1010 1770 1050 1680L1060 1620Q1050 1570 1010 1510"/>
<path d="M945 1560L1060 1605M905 1585L1055 1640M880 1610L1050 1670M860 1645L1040 1705M850 1680L1030 1735M845 1715L1010 1765M835 1745L985 1795M860 1790L950 1820"/>
<path d="M650 1425Q560 1440 480 1510Q380 1590 330 1700Q300 1780 280 1900L190 2155"/>
<path d="M655 1490Q520 1560 440 1660Q400 1720 380 1820L280 2155M655 1490L610 1620M575 1750L590 1850"/>
</g>
<!-- p29b.svg -->
<g transform="translate(1130,740) scale(0.138408)">
<path d="M940 0L780 470L620 940L500 1330Q430 1540 380 1660Q300 1800 230 1900L130 1990V2045"/>
<path d="M1215 0Q1100 80 1040 210L940 550L800 1000L720 1200Q640 1400 600 1560Q570 1720 520 1830Q450 1980 350 2095"/>
<path d="M1015 0L905 350M695 1000L540 1495M520 1570L455 1705M290 1945L220 2035"/>
</g>
<!-- p30.svg -->
<g transform="translate(1080,1000) scale(0.156642)">
<path d="M435 150L505 145L630 185"/>
<path d="M435 150L175 350Q120 420 120 500Q130 600 170 660L300 760L520 870L570 940L980 1170Q1040 1220 1100 1225Q1200 1200 1280 1100Q1380 960 1415 820Q1430 740 1400 690Q1340 640 1290 620L940 410Q880 390 840 395"/>
<path d="M630 185L730 260Q800 310 835 395M640 210Q760 280 810 385"/>
<path d="M300 360Q300 260 400 225Q520 200 600 225L640 210M300 400Q340 440 420 490Q500 540 525 600Q510 700 515 860M450 455Q540 510 560 575M232 468L412 575"/>
<path d="M415 225Q390 290 420 330Q460 350 480 350M425 360Q490 395 560 380Q610 350 605 260M545 340L600 325"/>
<path d="M840 395Q680 450 580 640Q530 760 530 870"/>
<path d="M925 435Q760 500 660 680Q600 820 610 950M880 430L795 480M660 640Q610 730 600 830Q600 900 610 940"/>
<path d="M1010 470Q860 520 740 700Q690 830 695 990M1040 485L885 530M755 690Q720 790 730 1000"/>
<path d="M1100 530Q960 570 840 740Q790 880 800 1050M1110 545L965 590M845 735Q790 850 790 1040"/>
<path d="M1190 590Q1040 640 930 800Q860 940 870 1090M1180 600L1060 640M930 790Q890 900 910 1100"/>
<path d="M1290 640L1190 675M1030 855Q960 1000 970 1100Q975 1150 990 1175"/>
<path d="M1245 775Q1180 790 1120 880Q1070 980 1095 1050L1150 1090Q1200 1130 1270 1090Q1350 1000 1390 880M1245 775Q1280 775 1310 810L1385 865M1150 1000L1152 1090M1115 1065L1150 1085"/>
<path d="M640 690Q600 790 598 880M745 770Q712 860 716 965M790 830L772 925M848 805Q812 900 816 1005M922 860Q890 955 896 1062M905 450L800 485M1100 540L965 580M1185 605L1065 645"/>
</g>
<!-- p31.svg -->
<g transform="translate(1230,490) scale(0.125313)">
<path d="M1000 272Q1100 250 1105 190Q1100 110 945 102Q790 110 785 190Q800 260 910 285"/>
<path d="M780 190V320Q790 380 860 400Q945 415 1030 395Q1100 375 1105 320V190"/>
<path d="M858 280V880Q870 915 945 918Q1020 915 1028 880V280M872 290V880"/>
<path d="M872 570Q880 600 945 605Q1010 600 1022 570M872 650Q880 680 945 685Q1010 680 1024 650M872 735Q880 765 945 768Q1010 765 1024 735M872 815Q880 850 945 852Q1010 850 1024 815"/>
</g>
<!-- p32.svg -->
<g transform="translate(260,1060) scale(0.162907)">
<path d="M1200 123L1280 330Q1330 420 1330 600Q1325 800 1250 950L1100 1180L1000 1340L935 1465L932 1560Q925 1610 900 1660Q880 1700 845 1725"/>
<path d="M1145 123L1240 370Q1285 480 1290 620Q1280 800 1200 950L1050 1180L960 1320Q900 1420 895 1480L893 1540Q885 1600 860 1640"/>
<path d="M515 1432Q420 1440 345 1510Q320 1530 290 1515Q230 1490 190 1510Q140 1550 125 1620Q105 1700 120 1740Q140 1780 205 1800Q195 1900 230 1960Q250 2010 290 2030L410 2075L515 2115Q600 2110 700 2010"/>
<path d="M515 1432L680 1490Q730 1540 790 1660"/>
<path d="M680 1490H610Q480 1530 410 1680Q350 1830 360 1960L380 2065M640 1525Q740 1530 785 1640Q800 1720 780 1810Q740 1950 690 2025Q620 2100 515 2115"/>
<path d="M625 1525Q500 1560 430 1690Q370 1850 385 1990L410 2075M640 1535Q520 1590 460 1690M405 1840Q385 1950 420 2070"/>
<path d="M255 1610Q300 1560 330 1545Q400 1570 470 1555Q510 1520 610 1490M225 1720Q225 1790 260 1810L340 1850Q350 1900 330 1940L345 2000L360 2060M205 1800L260 1810"/>
<path d="M360 1670Q330 1640 305 1680Q295 1720 305 1740L335 1738"/>
<path d="M825 1740Q880 1790 875 1860Q860 1940 810 1990Q760 2020 705 2010M830 1900Q800 1870 775 1910Q765 1950 800 1970"/>
<path d="M760 1590H815L830 1635L855 1640L865 1690M780 1610H800L830 1690L845 1725M790 1640L800 1735L830 1738Q850 1730 870 1700"/>
</g>
<!-- p32conn.svg -->
<g transform="translate(370,880) scale(0.125313)">
<path d="M1135 130Q1150 100 1190 105Q1250 130 1300 230Q1360 350 1345 470Q1320 570 1240 630Q1170 680 1100 705M1135 130Q1170 180 1210 215Q1270 290 1270 420Q1250 530 1170 600Q1100 650 1040 680"/>
<path d="M700 790L950 650L1075 695Q1110 720 1110 760L1135 830L1125 910L1075 950L980 995M875 880L1070 765"/>
<path d="M320 755Q250 730 210 740Q165 770 165 830L220 1200Q235 1260 270 1280L580 1405M665 1460L750 1465Q820 1450 870 1400Q880 1350 880 1250Q850 1120 760 1020Q700 960 620 920L320 755"/>
<path d="M320 755L335 670Q360 630 410 640L700 790Q830 850 900 920Q970 1000 990 1100Q1020 1200 1015 1270Q990 1340 880 1400"/>
<path d="M350 735L620 870L760 925M630 790Q770 840 850 930Q920 1010 950 1130Q960 1200 975 1280M795 965Q880 1050 910 1160Q930 1250 910 1300L875 1345M375 645L465 705"/>
<path d="M650 1295L665 1460Q660 1530 690 1596M640 1335Q590 1340 585 1390L590 1480Q595 1550 610 1596M640 1295L645 1335"/>
</g>
<!-- p33.svg -->
<g transform="translate(260,1400) scale(0.18797)">
<path d="M455 70L525 330M535 360L545 380M560 430L625 685L480 600" style="stroke-width:1.6"/>
<path d="M185 345Q160 320 130 340Q90 380 85 450Q90 490 150 490M185 345Q200 360 190 380M130 435Q140 400 180 380M125 470L135 440M150 480Q155 430 200 380"/>
<path d="M210 370L270 365L305 385V420M210 370Q170 420 170 490Q175 530 205 555L240 548L290 525M185 450Q180 520 215 520"/>
<path d="M270 415L420 520M240 430Q200 470 215 500L240 510L340 570Q390 600 405 575L425 535L420 520M225 445L260 430"/>
<path d="M265 440L240 500M290 455L265 515M315 470L290 530M340 490L315 545M365 505L345 560M390 520L375 575M250 430L230 480"/>
</g>
<!-- pfwd.svg -->
<g transform="translate(300,1870) scale(0.075188)" stroke-linejoin="miter">
<path d="M240 1020L535 545L595 570L600 620L1160 285L1220 320L1225 725L600 1080L595 1195Z" style="fill:#000;stroke:#000;stroke-width:1"/>
<path d="M290 1005L555 592M608 655L1165 335" style="stroke:#fff;stroke-width:1.2"/>
<path d="M610 1000L605 740L765 655M610 880L735 810M790 650L840 880L905 690L925 830L985 545M1030 500L1035 760L1165 690Q1195 670 1190 640L1185 470Q1180 430 1150 440Z" style="stroke:#fff;stroke-width:2.2;stroke-linecap:butt;stroke-linejoin:miter;fill:none"/>
</g>
</g>
</svg>
</body></html>
